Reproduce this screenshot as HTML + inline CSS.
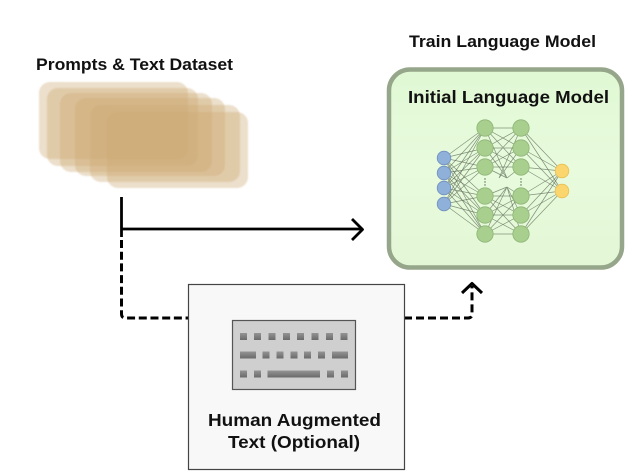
<!DOCTYPE html>
<html>
<head>
<meta charset="utf-8">
<style>
html,body{margin:0;padding:0;background:#fff}
svg{display:block}
text{font-family:"Liberation Sans",sans-serif;font-weight:700;fill:#111}
</style>
</head>
<body>
<svg width="633" height="472" viewBox="0 0 633 472" xmlns="http://www.w3.org/2000/svg">
<defs>
<filter id="b" x="-10%" y="-10%" width="120%" height="120%"><feGaussianBlur stdDeviation="0.7"/></filter>
<filter id="s" x="-10%" y="-10%" width="120%" height="120%"><feGaussianBlur stdDeviation="0.35"/></filter>
<linearGradient id="key" x1="0" y1="0" x2="0" y2="1"><stop offset="0" stop-color="#949494"/><stop offset="1" stop-color="#6a6a6a"/></linearGradient>
<linearGradient id="gf" x1="0" y1="0" x2="0" y2="1"><stop offset="0" stop-color="#e0f8d4"/><stop offset="0.5" stop-color="#e8fbdd"/><stop offset="1" stop-color="#e3f7d6"/></linearGradient>
</defs>

<text x="36" y="70" font-size="16.500" textLength="197" lengthAdjust="spacingAndGlyphs">Prompts &amp; Text Dataset</text>
<text x="409" y="47" font-size="16.500" textLength="187" lengthAdjust="spacingAndGlyphs">Train Language Model</text>

<g fill="#cba873" fill-opacity="0.37" filter="url(#b)">
<rect x="39" y="82" width="149" height="77" rx="11"/>
<rect x="47" y="88" width="151" height="78" rx="11"/>
<rect x="60" y="93" width="152" height="79" rx="11"/>
<rect x="75" y="98" width="150" height="78" rx="11"/>
<rect x="90" y="105" width="150" height="77" rx="11"/>
<rect x="107" y="112" width="141" height="76" rx="11"/>
</g>

<rect x="389" y="69.500" width="233" height="198" rx="21" fill="url(#gf)" stroke="#95a68a" stroke-width="4.500" filter="url(#s)"/>
<text x="408" y="103" font-size="17.500" textLength="201" lengthAdjust="spacingAndGlyphs">Initial Language Model</text>

<g filter="url(#s)">
<g fill="none" stroke="#5f6f58" stroke-width="0.7" stroke-opacity="0.75">
<path d="M485 128L444 158L485 148M485 167L444 158L485 196M485 215L444 158L485 234"/>
<path d="M485 128L444 173L485 148M485 167L444 173L485 196M485 215L444 173L485 234"/>
<path d="M485 128L444 188L485 148M485 167L444 188L485 196M485 215L444 188L485 234"/>
<path d="M485 128L444 204L485 148M485 167L444 204L485 196M485 215L444 204L485 234"/>
<path d="M485 128L521 128M485 128L521 148M485 128L521 167M485 148L521 128M485 148L521 148M485 148L521 167M485 167L521 128M485 167L521 148M485 167L521 167"/>
<path d="M485 196L521 196M485 196L521 215M485 196L521 234M485 215L521 196M485 215L521 215M485 215L521 234M485 234L521 196M485 234L521 215M485 234L521 234"/>
<path d="M485 128L507 178M485 148L507 178M485 167L507 178M521 128L499 178M521 148L499 178M521 167L507 178"/>
<path d="M485 196L507 187M485 215L507 187M485 234L507 187M521 196L507 187M521 215L507 187M521 234L507 187"/>
<path d="M521 128L562 171L521 148M521 167L562 171L521 196M521 215L562 171L521 234"/>
<path d="M521 128L562 191L521 148M521 167L562 191L521 196M521 215L562 191L521 234"/>
</g>
<g fill="#8fb0d8" stroke="#6f8fc0" stroke-width="0.8">
<circle cx="444" cy="158" r="6.800"/><circle cx="444" cy="173" r="6.800"/><circle cx="444" cy="188" r="6.800"/><circle cx="444" cy="204" r="6.800"/>
</g>
<g fill="#a9cf8f" stroke="#8db575" stroke-width="0.8">
<circle cx="485" cy="128" r="8.200"/><circle cx="485" cy="148" r="8.200"/><circle cx="485" cy="167" r="8.200"/><circle cx="485" cy="196" r="8.200"/><circle cx="485" cy="215" r="8.200"/><circle cx="485" cy="234" r="8.200"/>
<circle cx="521" cy="128" r="8.200"/><circle cx="521" cy="148" r="8.200"/><circle cx="521" cy="167" r="8.200"/><circle cx="521" cy="196" r="8.200"/><circle cx="521" cy="215" r="8.200"/><circle cx="521" cy="234" r="8.200"/>
</g>
<g fill="#fbd66e" stroke="#e8bf55" stroke-width="0.8">
<circle cx="562" cy="171" r="6.800"/><circle cx="562" cy="191" r="6.800"/>
</g>
<g fill="#4a6a50">
<circle cx="485" cy="179" r="0.7"/><circle cx="485" cy="182" r="0.7"/><circle cx="485" cy="185" r="0.7"/>
<circle cx="521" cy="179" r="0.7"/><circle cx="521" cy="182" r="0.7"/><circle cx="521" cy="185" r="0.7"/>
</g>
</g>

<g fill="none" stroke="#000" stroke-width="2.800" stroke-linejoin="round">
<path d="M121.500 197V237M121.500 229H362"/>
<path d="M352 219L362.500 229.500L352 240"/>
<path d="M121.500 240V314Q121.500 318 125.500 318H188" stroke-width="3" stroke-dasharray="8 3.700"/>
<path d="M404 318H468Q472 318 472 314V286" stroke-width="3" stroke-dasharray="8 4"/>
<path d="M462 293L472 283.500L482 293" stroke-width="3"/>
</g>

<rect x="188.500" y="284.500" width="216" height="185" fill="#f8f8f8" stroke="#444" stroke-width="1.200"/>

<rect x="232.500" y="320.500" width="123" height="69" fill="#cfcfcf" stroke="#555" stroke-width="1.200"/>
<g fill="url(#key)">
<rect x="240" y="333" width="7" height="7"/><rect x="254" y="333" width="7" height="7"/><rect x="268.500" y="333" width="7" height="7"/><rect x="283" y="333" width="7" height="7"/><rect x="297" y="333" width="7" height="7"/><rect x="311.500" y="333" width="7" height="7"/><rect x="326" y="333" width="7" height="7"/><rect x="340.500" y="333" width="7" height="7"/>
<rect x="240" y="351.500" width="16" height="7"/><rect x="262.500" y="351.500" width="7" height="7"/><rect x="276.500" y="351.500" width="7" height="7"/><rect x="290.500" y="351.500" width="7" height="7"/><rect x="304" y="351.500" width="7" height="7"/><rect x="318" y="351.500" width="7" height="7"/><rect x="332" y="351.500" width="16" height="7"/>
<rect x="240" y="370.500" width="7" height="7"/><rect x="254" y="370.500" width="7" height="7"/><rect x="267.500" y="370.500" width="52.500" height="7"/><rect x="327" y="370.500" width="7" height="7"/><rect x="341" y="370.500" width="7" height="7"/>
</g>

<text x="294.500" y="426" font-size="17.500" text-anchor="middle" textLength="173" lengthAdjust="spacingAndGlyphs">Human Augmented</text>
<text x="294" y="448" font-size="17.500" text-anchor="middle" textLength="132" lengthAdjust="spacingAndGlyphs">Text (Optional)</text>
</svg>
</body>
</html>
